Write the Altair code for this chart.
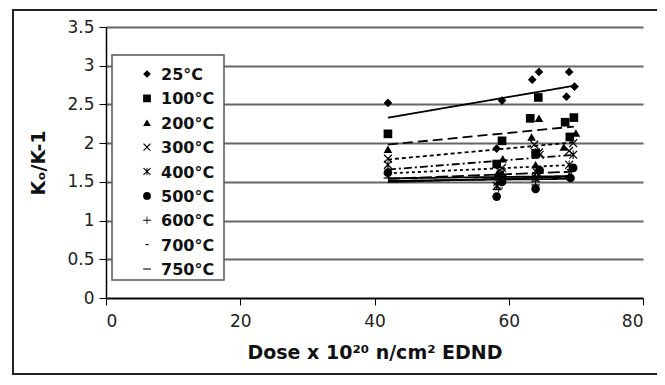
import altair as alt
import pandas as pd

temps = ["25°C", "100°C", "200°C", "300°C", "400°C", "500°C", "600°C", "700°C", "750°C"]

dose_25 = [42.0, 58.2, 59.0, 63.5, 64.5, 68.6, 69.0, 69.8]
k_25 = [2.52, 1.93, 2.55, 2.82, 2.92, 2.60, 2.92, 2.73]

dose_100 = [42.0, 58.2, 59.0, 63.2, 64.4, 64.0, 68.4, 69.7, 69.1]
k_100 = [2.12, 1.73, 2.03, 2.32, 2.59, 1.87, 2.27, 2.33, 2.08]

dose_200 = [42.0, 58.4, 59.1, 63.4, 64.5, 64.0, 68.2, 70.0]
k_200 = [1.92, 1.62, 1.80, 2.08, 2.32, 1.72, 1.95, 2.13]

dose_300 = [42.0, 58.3, 59.0, 63.8, 64.6, 64.2, 69.0, 69.6]
k_300 = [1.80, 1.50, 1.68, 1.98, 1.85, 1.62, 1.90, 2.00]

dose_400 = [42.0, 58.2, 59.0, 64.0, 64.5, 69.0, 69.6]
k_400 = [1.72, 1.45, 1.62, 1.55, 1.88, 1.72, 1.85]

dose_500 = [42.0, 58.2, 59.0, 64.0, 64.6, 69.2, 69.6]
k_500 = [1.62, 1.31, 1.50, 1.41, 1.65, 1.55, 1.68]

dose_600 = [42.0, 58.5, 59.0, 64.0, 64.3, 69.0, 69.3]
k_600 = [1.60, 1.42, 1.58, 1.50, 1.62, 1.58, 1.66]

dose_700 = [42.0, 58.4, 59.0, 64.1, 64.5, 69.1, 69.5]
k_700 = [1.58, 1.48, 1.62, 1.52, 1.70, 1.60, 1.72]

dose_750 = [42.0, 58.3, 59.1, 64.0, 64.4, 69.0, 69.4]
k_750 = [1.55, 1.40, 1.56, 1.46, 1.64, 1.56, 1.65]

y_ticks = [0, 0.5, 1, 1.5, 2, 2.5, 3, 3.5]
x_ticks = [0, 20, 40, 60, 80]

series = [
    ("25°C", dose_25, k_25), ("100°C", dose_100, k_100), ("200°C", dose_200, k_200),
    ("300°C", dose_300, k_300), ("400°C", dose_400, k_400), ("500°C", dose_500, k_500),
    ("600°C", dose_600, k_600), ("700°C", dose_700, k_700), ("750°C", dose_750, k_750),
]
rows = []
for t, xs, ys in series:
    for xv, yv in zip(xs, ys):
        rows.append({"temp": t, "trend": t, "dose": xv, "k": yv})
df = pd.DataFrame(rows)
legend_df = pd.DataFrame({"temp": temps})

x_path = "M-1,-0.8L-0.8,-1L0,-0.2L0.8,-1L1,-0.8L0.2,0L1,0.8L0.8,1L0,0.2L-0.8,1L-1,0.8L-0.2,0Z"
ast_path = x_path + "M-0.12,-1L0.12,-1L0.12,1L-0.12,1Z"
plus_path = "M-0.1,-1L0.1,-1L0.1,-0.1L1,-0.1L1,0.1L0.1,0.1L0.1,1L-0.1,1L-0.1,0.1L-1,0.1L-1,-0.1L-0.1,-0.1Z"
sdash_path = "M-0.45,-0.14L0.45,-0.14L0.45,0.14L-0.45,0.14Z"
ldash_path = "M-1,-0.14L1,-0.14L1,0.14L-1,0.14Z"
shapes = ["diamond", "square", "triangle-up", x_path, ast_path, "circle", plus_path, sdash_path, ldash_path]
dashes = [[1, 0], [10, 5], [4, 3], [8, 3, 2, 3], [3, 3], [1, 0], [1, 0], [12, 4], [1, 0]]

FONT = "DejaVu Sans"
W, H = 537, 271

xscale = alt.Scale(domain=[0, 80], nice=False)
yscale = alt.Scale(domain=[0, 3.5], nice=False)
shape_scale = alt.Scale(domain=temps, range=shapes)


def x_axis():
    return alt.Axis(values=x_ticks, grid=False, title="Dose x 10²⁰ n/cm² EDND",
                    titleFontSize=19, titleFontWeight="bold", titlePadding=14,
                    labelFontSize=17, labelPadding=8, tickSize=7, labelOverlap=False)


def y_axis():
    return alt.Axis(values=y_ticks, format="~g", grid=True, labelOverlap=False,
                    title="Kₒ/K-1", titleFontSize=19, titleFontWeight="bold", titlePadding=18,
                    labelFontSize=17, labelPadding=5, tickSize=7)


lines = alt.Chart(df).transform_regression(
    "dose", "k", groupby=["trend"]
).mark_line(color="black", strokeWidth=1.8).encode(
    x=alt.X("dose:Q", scale=xscale, axis=x_axis()),
    y=alt.Y("k:Q", scale=yscale, axis=y_axis()),
    strokeDash=alt.StrokeDash("trend:N", scale=alt.Scale(domain=temps, range=dashes), legend=None),
)

points = alt.Chart(df).mark_point(filled=True, color="black", size=75, opacity=1).encode(
    x=alt.X("dose:Q", scale=xscale, axis=x_axis()),
    y=alt.Y("k:Q", scale=yscale, axis=y_axis()),
    shape=alt.Shape("temp:N", scale=shape_scale, legend=None),
)

frame = alt.Chart(pd.DataFrame({"a": [0]})).mark_rect(
    filled=False, stroke="#222", strokeWidth=2, clip=False
).encode(x=alt.value(-93), x2=alt.value(W + 17), y=alt.value(-17), y2=alt.value(H + 76))

main = alt.layer(frame, lines, points)

# legend drawn as its own small layer
leg_y = alt.Y("temp:N", scale=alt.Scale(type="point", domain=temps, range=[47, 242], padding=0), axis=None)
leg_box = alt.Chart(pd.DataFrame({"a": [0]})).mark_rect(
    fill="white", stroke="#555", strokeWidth=1.5
).encode(x=alt.value(6), x2=alt.value(118), y=alt.value(28), y2=alt.value(253))
leg_sym = alt.Chart(legend_df).mark_point(filled=True, color="black", size=60, opacity=1).encode(
    x=alt.value(41), y=leg_y, shape=alt.Shape("temp:N", scale=shape_scale, legend=None)
)
leg_txt = alt.Chart(legend_df).mark_text(
    align="left", baseline="middle", fontSize=16, fontWeight="bold", color="#111", dy=1, font=FONT
).encode(x=alt.value(55), y=leg_y, text="temp:N")
legend = alt.layer(leg_box, leg_sym, leg_txt)

chart = alt.layer(main, legend).resolve_scale(y="independent").properties(
    width=W, height=H,
    padding={"left": 98, "top": 19, "right": 14, "bottom": 78},
    autosize=alt.AutoSizeParams(type="none"),
).configure(
    font=FONT, background="white"
).configure_view(stroke=None).configure_axis(
    gridColor="#666", gridWidth=2, domainColor="black", domainWidth=1.5,
    tickColor="black", labelColor="#222", titleColor="#111",
    labelFont=FONT, titleFont=FONT,
)

chart.save("out.html", embed_options={"renderer": "svg", "actions": False})
